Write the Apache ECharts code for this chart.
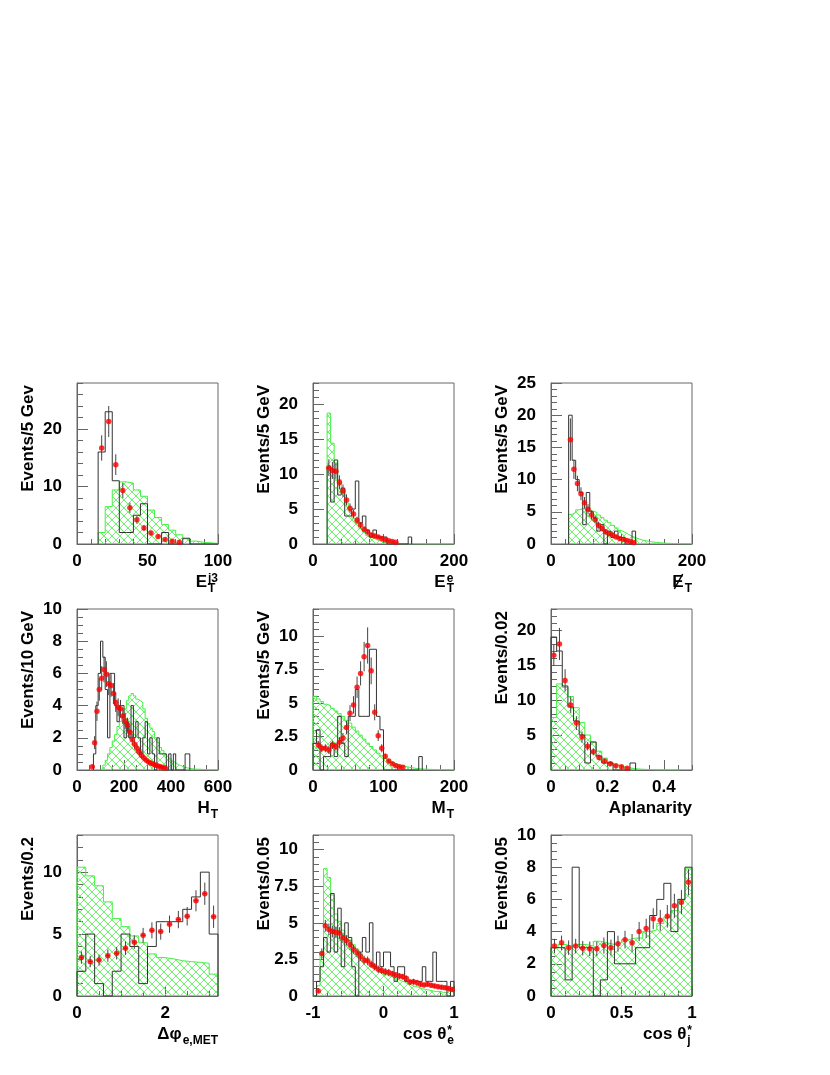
<!DOCTYPE html>
<html><head><meta charset="utf-8">
<script src="https://cdn.jsdelivr.net/npm/echarts@6/dist/echarts.min.js"></script>
<style>html,body{margin:0;padding:0;background:#fff}#c{width:830px;height:1075px}</style>
</head><body><div id="c"></div>
<script>
// ---------------- DATA ----------------
// Panel 1: E_T^j3  (bin width 5)
const ej3XTicks = [0, 50, 100];
const ej3YTicks = [0, 10, 20];
const ej3BlackStart = 15;
const ej3Black = [16, 23, 11, 2, 2, 5, 7, 0, 0, 2, 0, 0, 1, 0, 0, 0, 0];
const ej3GreenStart = 15;
const ej3Green = [2.0, 6.5, 9.4, 10.8, 10.6, 9.4, 8.3, 5.9, 4.6, 3.4, 2.4, 1.6, 0.9, 0.5, 0.3, 0.2, 0.1];
const ej3RedStart = 17.5;
const ej3Red = [16.7, 21.3, 13.8, 9.3, 6.3, 4.2, 2.8, 1.9, 1.3, 0.8, 0.5, 0.3];
const ej3Err = [2.2, 2.7, 1.8, 1.3, 0.9, 0.7, 0.5, 0.4, 0.3, 0.2, 0.2, 0.1];

// Panel 2: E_T^e (bin width 5)
const eteXTicks = [0, 100, 200];
const eteYTicks = [0, 5, 10, 15, 20];
const eteBlackStart = 20;
const eteBlack = [11, 6, 12, 7, 8, 4, 4, 5, 9, 3, 4, 2, 1, 2, 1, 1, 1, 0, 0, 0, 0, 0, 0, 1];
const eteGreenStart = 20;
const eteGreen = [18.7, 14.4, 11.6, 9.2, 7.4, 5.9, 4.7, 3.7, 2.9, 2.2, 1.7, 1.2, 0.9, 0.65, 0.45, 0.3, 0.2, 0.15, 0.1, 0.07, 0.05, 0.04, 0.03, 0.03, 0.02, 0.02, 0.02, 0.01, 0.01, 0.01, 0.01, 0.01, 0.01, 0.01, 0.01, 0.01];
const eteRedStart = 22.5;
const eteRed = [10.9, 10.5, 10.4, 8.8, 7.6, 6.3, 5.1, 4.3, 3.4, 2.7, 2.1, 1.7, 1.3, 1.15, 1.0, 0.8, 0.6, 0.45, 0.35, 0.25];
const eteErr = [1.2, 1.2, 1.1, 1.0, 0.9, 0.8, 0.7, 0.6, 0.5, 0.45, 0.4, 0.35, 0.3, 0.3, 0.25, 0.2, 0.2, 0.15, 0.15, 0.1];

// Panel 3: missing E_T (bin width 5)
const metXTicks = [0, 100, 200];
const metYTicks = [0, 5, 10, 15, 20, 25];
const metBlackStart = 25;
const metBlack = [20, 13, 10, 8, 3, 8, 5, 4, 2, 3, 0, 2, 1, 2, 1, 1, 0, 0, 2];
const metGreenStart = 25;
const metGreen = [4.6, 4.9, 5.3, 5.5, 5.4, 5.3, 5.1, 4.9, 4.5, 4.1, 3.7, 3.3, 2.9, 2.5, 2.1, 1.8, 1.5, 1.2, 1.0, 0.8, 0.6, 0.5, 0.4, 0.3, 0.25, 0.2, 0.15, 0.12, 0.1, 0.08, 0.06, 0.05, 0.04, 0.03, 0.02];
const metRedStart = 27.5;
const metRed = [16.2, 11.6, 9.4, 7.8, 6.4, 5.4, 4.5, 3.8, 2.9, 2.4, 1.9, 1.6, 1.4, 1.1, 0.85, 0.7, 0.55, 0.4, 0.25];
const metErr = [3.3, 1.5, 1.2, 1.0, 0.9, 0.8, 0.7, 0.6, 0.5, 0.45, 0.4, 0.35, 0.3, 0.3, 0.25, 0.2, 0.2, 0.15, 0.1];

// Panel 4: H_T (bin width 10)
const htXTicks = [0, 200, 400, 600];
const htYTicks = [0, 2, 4, 6, 8, 10];
const htBlackStart = 70;
const htBlack = [1, 4, 6, 8, 7, 5, 2, 6, 6, 4, 3, 4, 4, 2, 3, 2, 4, 2, 3, 2, 1, 2, 3, 1, 2, 1, 0, 2, 1, 1, 1, 0, 1, 0, 1, 0, 0, 0, 0, 1, 1];
const htGreenStart = 100;
const htGreen = [0.1, 0.3, 0.6, 1.0, 1.4, 1.8, 2.2, 2.7, 3.0, 3.4, 3.8, 4.3, 4.6, 4.75, 4.6, 4.4, 4.3, 4.2, 3.8, 3.2, 2.9, 2.6, 2.4, 2.0, 1.7, 1.4, 1.2, 1.0, 0.85, 0.7, 0.55, 0.45, 0.35, 0.28, 0.22, 0.17, 0.13, 0.1, 0.08, 0.06, 0.05, 0.05, 0.04, 0.03, 0.03, 0.02, 0.02, 0.02, 0.01, 0.01];
const htRedStart = 65;
const htRed = [0.2, 1.7, 3.65, 5.0, 5.7, 6.25, 5.95, 5.35, 5.25, 4.75, 4.2, 3.9, 3.8, 3.35, 3.05, 2.8, 2.35, 1.9, 1.6, 1.35, 1.1, 0.9, 0.75, 0.6, 0.5, 0.42, 0.35, 0.3, 0.25, 0.2, 0.15, 0.12];
const htErr = [0.1, 0.4, 0.6, 0.7, 0.75, 0.8, 0.8, 0.7, 0.7, 0.65, 0.6, 0.55, 0.55, 0.5, 0.5, 0.45, 0.4, 0.35, 0.3, 0.3, 0.25, 0.2, 0.2, 0.15, 0.15, 0.12, 0.1, 0.1, 0.08, 0.08, 0.06, 0.05];

// Panel 5: M_T (bin width 5)
const mtXTicks = [0, 100, 200];
const mtYTicks = [0, 2.5, 5, 7.5, 10];
const mtBlackStart = 0;
const mtBlack = [2, 3, 0, 1, 1, 2, 1, 4, 2, 1, 4, 4, 6, 4, 4, 4, 9, 9, 4, 3, 0, 0, 0, 0, 0, 0, 0, 0, 0, 0, 1];
const mtGreenStart = 0;
const mtGreen = [5.5, 5.3, 5.1, 4.9, 4.8, 4.6, 4.4, 4.2, 4.0, 3.7, 3.5, 3.2, 2.9, 2.6, 2.3, 2.0, 1.75, 1.5, 1.25, 1.05, 0.85, 0.7, 0.55, 0.45, 0.35, 0.28, 0.22, 0.17, 0.13, 0.1, 0.08, 0.06, 0.05, 0.04, 0.03, 0.03, 0.02, 0.02, 0.01, 0.01];
const mtRedStart = 7.5;
const mtRed = [1.87, 1.62, 1.62, 1.5, 1.87, 1.74, 2.06, 2.36, 3.16, 4.23, 4.85, 6.17, 7.2, 8.45, 9.28, 7.39, 4.3, 2.56, 1.62, 1.02, 0.67, 0.47, 0.32, 0.25, 0.2];
const mtErr = [0.3, 0.3, 0.3, 0.3, 0.3, 0.3, 0.4, 0.4, 0.5, 0.6, 0.65, 0.8, 0.9, 1.1, 1.35, 1.0, 0.6, 0.4, 0.3, 0.2, 0.15, 0.1, 0.1, 0.08, 0.06];

// Panel 6: Aplanarity (bin width 0.02)
const aplXTicks = [0, 0.2, 0.4];
const aplYTicks = [0, 5, 10, 15, 20];
const aplBlackStart = 0;
const aplBlack = [19, 17, 12, 9, 7, 5, 1, 4, 2, 1, 1, 0, 0, 0, 1];
const aplGreenStart = 0;
const aplGreen = [7.5, 12.3, 11.8, 10.5, 8.9, 6.8, 5.0, 4.0, 2.7, 1.7, 1.1, 0.7, 0.45, 0.3, 0.18, 0.12, 0.08, 0.05, 0.03, 0.02, 0.01, 0.01, 0.01];
const aplRedStart = 0.01;
const aplRed = [16.4, 18.0, 12.8, 9.3, 6.7, 4.7, 3.4, 2.6, 1.8, 1.3, 0.9, 0.6, 0.45, 0.25];
const aplErr = [1.5, 2.3, 1.6, 1.2, 1.0, 0.8, 0.6, 0.5, 0.4, 0.3, 0.25, 0.2, 0.15, 0.1];

// Panel 7: delta phi(e,MET) (bin width 0.2)
const dphiXTicks = [0, 2];
const dphiYTicks = [0, 5, 10];
const dphiBlackStart = 0;
const dphiBlack = [2, 5, 1, 0, 2, 5, 4, 1, 4, 6, 6, 6, 7, 8, 10, 5];
const dphiGreenStart = 0;
const dphiGreen = [10.4, 9.7, 8.9, 7.6, 6.25, 5.6, 4.85, 4.3, 3.4, 3.1, 2.99, 2.85, 2.77, 2.72, 2.64, 1.77];
const dphiRedStart = 0.1;
const dphiRed = [3.1, 2.77, 2.9, 3.26, 3.45, 3.86, 4.35, 4.9, 5.3, 5.2, 5.8, 6.17, 6.44, 7.69, 8.26, 6.4];
const dphiErr = [0.5, 0.45, 0.45, 0.5, 0.5, 0.55, 0.55, 0.6, 0.65, 0.65, 0.7, 0.7, 0.75, 0.85, 0.9, 0.9];

// Panel 8: cos theta_e* (bin width 0.05)
const coseXTicks = [-1, 0, 1];
const coseYTicks = [0, 2.5, 5, 7.5, 10];
const coseBlackStart = -1;
const coseBlack = [0, 1, 2, 4, 3, 7, 3, 6, 2, 5, 4, 2, 0, 3, 4, 3, 5, 2, 3, 2, 3, 3, 2, 1, 2, 2, 1, 1, 1, 1, 1, 2, 1, 1, 3, 1, 1, 1, 0, 1];
const coseGreenStart = -1;
const coseGreen = [0, 0.7, 3.0, 8.7, 8.1, 6.9, 5.6, 5.1, 4.5, 4.1, 3.8, 3.5, 3.2, 2.9, 2.6, 2.4, 2.2, 2.0, 1.8, 1.6, 1.45, 1.35, 1.25, 1.15, 1.05, 0.95, 0.85, 0.75, 0.65, 0.6, 0.5, 0.45, 0.4, 0.35, 0.3, 0.3, 0.25, 0.25, 0.35, 0.55];
const coseRedStart = -0.925;
const coseRed = [0.34, 2.9, 4.8, 4.55, 4.4, 4.35, 4.3, 3.98, 3.8, 3.5, 3.2, 2.95, 2.7, 2.45, 2.4, 2.16, 2.0, 1.82, 1.75, 1.66, 1.6, 1.52, 1.43, 1.36, 1.32, 1.2, 0.95, 0.98, 0.9, 0.8, 0.75, 0.8, 0.73, 0.68, 0.64, 0.6, 0.57, 0.52, 0.45];
const coseErr = [0.1, 0.35, 0.4, 0.4, 0.4, 0.4, 0.4, 0.35, 0.35, 0.35, 0.3, 0.3, 0.3, 0.3, 0.3, 0.25, 0.25, 0.25, 0.25, 0.25, 0.25, 0.2, 0.2, 0.2, 0.2, 0.2, 0.2, 0.2, 0.2, 0.15, 0.15, 0.15, 0.15, 0.15, 0.15, 0.15, 0.15, 0.15, 0.15];

// Panel 9: cos theta_j* (bin width 0.05)
const cosjXTicks = [0, 0.5, 1];
const cosjYTicks = [0, 2, 4, 6, 8, 10];
const cosjBlackStart = 0;
const cosjBlack = [3, 3, 1, 8, 3, 3, 0, 1, 4, 2, 2, 2, 3, 3, 5, 6, 7, 4, 6, 8];
const cosjGreenStart = 0;
const cosjGreen = [3.0, 3.2, 3.1, 3.2, 3.2, 3.1, 3.4, 3.3, 3.2, 3.3, 3.5, 3.6, 3.6, 4.0, 4.1, 4.5, 4.9, 5.3, 6.0, 7.9];
const cosjRedStart = 0.025;
const cosjRed = [3.1, 3.3, 3.0, 3.1, 2.97, 2.93, 2.93, 3.13, 3.0, 3.25, 3.5, 3.3, 4.0, 4.2, 4.8, 4.7, 4.95, 5.6, 5.83, 7.07];
const cosjErr = [0.45, 0.45, 0.45, 0.45, 0.45, 0.45, 0.45, 0.5, 0.5, 0.5, 0.55, 0.55, 0.6, 0.6, 0.65, 0.65, 0.7, 0.75, 0.75, 0.8];

// ---------------- PANELS (data refs + axis ranges) ----------------
const panels = [
  {xr:[0,100], ymax:28, bw:5, black:[ej3BlackStart,ej3Black], green:[ej3GreenStart,ej3Green], red:[ej3RedStart,ej3Red,ej3Err], hx:0,
   xt:ej3XTicks, xm:10, yt:ej3YTicks, ym:2, yTitle:'Events/5 Gev', xTitle:{main:'E', sub:'T', sup:'j3'}},
  {xr:[0,200], ymax:23, bw:5, black:[eteBlackStart,eteBlack], green:[eteGreenStart,eteGreen], red:[eteRedStart,eteRed,eteErr], hx:0,
   xt:eteXTicks, xm:20, yt:eteYTicks, ym:1, yTitle:'Events/5 GeV', xTitle:{main:'E', sub:'T', sup:'e'}},
  {xr:[0,200], ymax:25, bw:5, black:[metBlackStart,metBlack], green:[metGreenStart,metGreen], red:[metRedStart,metRed,metErr], hx:0,
   xt:metXTicks, xm:20, yt:metYTicks, ym:1, yTitle:'Events/5 GeV', xTitle:{main:'E', sub:'T', slash:true}},
  {xr:[0,600], ymax:10, bw:10, black:[htBlackStart,htBlack], green:[htGreenStart,htGreen], red:[htRedStart,htRed,htErr], hx:0,
   xt:htXTicks, xm:50, yt:htYTicks, ym:0.5, yTitle:'Events/10 GeV', xTitle:{main:'H', sub:'T'}},
  {xr:[0,200], ymax:12, bw:5, black:[mtBlackStart,mtBlack], green:[mtGreenStart,mtGreen], red:[mtRedStart,mtRed,mtErr], hx:0,
   xt:mtXTicks, xm:20, yt:mtYTicks, ym:0.5, yTitle:'Events/5 GeV', xTitle:{main:'M', sub:'T'}},
  {xr:[0,0.5], ymax:23, bw:0.02, black:[aplBlackStart,aplBlack], green:[aplGreenStart,aplGreen], red:[aplRedStart,aplRed,aplErr], hx:0,
   xt:aplXTicks, xm:0.05, yt:aplYTicks, ym:1, yTitle:'Events/0.02', xTitle:{main:'Aplanarity'}},
  {xr:[0,3.2], ymax:13, bw:0.2, black:[dphiBlackStart,dphiBlack], green:[dphiGreenStart,dphiGreen], red:[dphiRedStart,dphiRed,dphiErr], hx:0.05,
   xt:dphiXTicks, xm:0.5, yt:dphiYTicks, ym:1, yTitle:'Events/0.2', xTitle:{main:'\u0394\u03c6', sub:'e,MET'}},
  {xr:[-1,1], ymax:11, bw:0.05, black:[coseBlackStart,coseBlack], green:[coseGreenStart,coseGreen], red:[coseRedStart,coseRed,coseErr], hx:0,
   xt:coseXTicks, xm:0.2, yt:coseYTicks, ym:0.5, yTitle:'Events/0.05', xTitle:{main:'cos \u03b8', sub:'e', sup:'*'}},
  {xr:[0,1], ymax:10, bw:0.05, black:[cosjBlackStart,cosjBlack], green:[cosjGreenStart,cosjGreen], red:[cosjRedStart,cosjRed,cosjErr], hx:0,
   xt:cosjXTicks, xm:0.1, yt:cosjYTicks, ym:0.5, yTitle:'Events/0.05', xTitle:{main:'cos \u03b8', sub:'j', sup:'*'}}
];

// ---------------- LAYOUT / STYLE ----------------
const COLS = [77, 313, 551], ROWS = [383, 609, 835], PW = 141, PH = 161;
const BASE = [588, 814, 1040];
const FONT = '"Liberation Sans", Arial, Helvetica, sans-serif';
const AX = '#666', GREEN = '#44f044', HATCH = '#5cf55c', BLACK = '#333';

const hatch = document.createElement('canvas');
hatch.width = 8; hatch.height = 8;
(function(){ const g = hatch.getContext('2d'); g.strokeStyle = HATCH; g.lineWidth = 0.9;
  g.beginPath(); g.moveTo(0,0); g.lineTo(8,8); g.moveTo(0,8); g.lineTo(8,0); g.stroke(); })();

const mctx = document.createElement('canvas').getContext('2d');
function tw(t, s){ mctx.font = 'bold ' + s + 'px ' + FONT; return mctx.measureText(t).width; }

function stepData(start, bw, vals){
  const pts = [[start, 0]];
  vals.forEach((v,k)=>pts.push([+(start + k*bw).toFixed(6), v]));
  const end = +(start + vals.length*bw).toFixed(6);
  pts.push([end, vals[vals.length-1]]); pts.push([end, 0]);
  return pts;
}
function minorList(min, max, step){
  const out = []; const n = Math.round((max-min)/step);
  for (let k=0;k<=n;k++) out.push(+(min + k*step).toFixed(6));
  return out;
}

const grids = [], xAxes = [], yAxes = [], series = [], graphics = [];
const labelStyle = {fontSize:17, fontWeight:'bold', fontFamily:FONT, color:'#000'};

panels.forEach((p, i) => {
  const c = i % 3, r = Math.floor(i / 3);
  const left = COLS[c], top = ROWS[r];
  grids.push({left, top, width:PW, height:PH, show:true, borderColor:AX, borderWidth:1, backgroundColor:'#fff', containLabel:false, outerBoundsMode:'none'});
  const xMinor = minorList(p.xr[0], p.xr[1], p.xm);
  const yMinor = minorList(0, Math.floor(p.ymax/p.ym)*p.ym, p.ym);
  xAxes.push({type:'value', gridIndex:i, position:'bottom', min:p.xr[0], max:p.xr[1],
    axisLine:{show:true, onZero:false, lineStyle:{color:AX}},
    axisTick:{show:true, inside:true, length:10, customValues:p.xt, lineStyle:{color:AX}},
    axisLabel:Object.assign({show:true, margin:9, customValues:p.xt}, labelStyle),
    splitLine:{show:false}});
  xAxes.push({type:'value', gridIndex:i, position:'bottom', min:p.xr[0], max:p.xr[1],
    axisLine:{show:false, onZero:false},
    axisTick:{show:true, inside:true, length:5, customValues:xMinor, lineStyle:{color:AX}},
    axisLabel:{show:false}, splitLine:{show:false}});
  yAxes.push({type:'value', gridIndex:i, position:'left', min:0, max:p.ymax,
    axisLine:{show:true, onZero:false, lineStyle:{color:AX}},
    axisTick:{show:true, inside:true, length:11, customValues:p.yt, lineStyle:{color:AX}},
    axisLabel:Object.assign({show:true, margin:15, customValues:p.yt}, labelStyle),
    splitLine:{show:false}});
  yAxes.push({type:'value', gridIndex:i, position:'left', min:0, max:p.ymax,
    axisLine:{show:false, onZero:false},
    axisTick:{show:true, inside:true, length:6, customValues:yMinor, lineStyle:{color:AX}},
    axisLabel:{show:false}, splitLine:{show:false}});
  const xi = 2*i, yi = 2*i;
  series.push({type:'line', xAxisIndex:xi, yAxisIndex:yi, step:'end', symbol:'none', silent:true,
    data:stepData(p.green[0], p.bw, p.green[1]),
    lineStyle:{color:GREEN, width:1}, areaStyle:{color:{image:hatch, repeat:'repeat'}, opacity:1}, z:1});
  series.push({type:'line', xAxisIndex:xi, yAxisIndex:yi, step:'end', symbol:'none', silent:true,
    data:stepData(p.black[0], p.bw, p.black[1]),
    lineStyle:{color:BLACK, width:1}, z:2});
  const pts = p.red[1].map((v,k)=>[+(p.red[0] + k*p.bw).toFixed(6), v, p.red[2][k], p.hx]);
  series.push({type:'custom', xAxisIndex:xi, yAxisIndex:yi, silent:true, z:3,
    data:pts, encode:{x:0, y:1},
    renderItem:function(params, api){
      const x = api.value(0), y = api.value(1), e = api.value(2), h = api.value(3);
      const a = api.coord([x, y + e]), b = api.coord([x, Math.max(0, y - e)]);
      const ch = [{type:'line', shape:{x1:a[0], y1:a[1], x2:b[0], y2:b[1]}, style:{stroke:'#444', lineWidth:1}}];
      if (h > 0) {
        const l = api.coord([x - h, y]), rr = api.coord([x + h, y]);
        ch.push({type:'line', shape:{x1:l[0], y1:l[1], x2:rr[0], y2:rr[1]}, style:{stroke:'#444', lineWidth:1}});
      }
      return {type:'group', children:ch};
    }});
  series.push({type:'scatter', xAxisIndex:xi, yAxisIndex:yi, silent:true, z:4,
    data:pts.map(q=>[q[0], q[1]]), symbol:'circle', symbolSize:5.5,
    itemStyle:{color:'#ff0000'}});

  // y-axis title (rotated)
  graphics.push({type:'text', x:left - 49, y:top + 2, rotation:Math.PI/2,
    style:{text:p.yTitle, font:'bold 17px ' + FONT, fill:'#000', align:'right', verticalAlign:'middle', textAlign:'right', textVerticalAlign:'middle'}});
  // x-axis title with sub/superscripts
  const t = p.xTitle, B = BASE[r], right = left + PW;
  const wm = tw(t.main, 17), ws = t.sub ? tw(t.sub, 12) : 0, wp = t.sup ? tw(t.sup, 12) : 0;
  const x0 = right - (wm + Math.max(ws, wp) + (t.sub || t.sup ? 1 : 0));
  const mk = (txt, x, y, s) => ({type:'text', x, y,
    style:{text:txt, font:'bold ' + s + 'px ' + FONT, fill:'#000', align:'left', verticalAlign:'middle', textAlign:'left', textVerticalAlign:'middle'}});
  graphics.push(mk(t.main, x0, B - 5.3, 17));
  if (t.sub) graphics.push(mk(t.sub, x0 + wm + 1, B + 4 - 3.7, 12));
  if (t.sup) graphics.push(mk(t.sup, x0 + wm + 1, B - 6 - 3.7, 12));
  if (t.slash) graphics.push({type:'line', shape:{x1:x0 + 2, y1:B + 1, x2:x0 + wm - 1, y2:B - 14}, style:{stroke:'#000', lineWidth:1.5}});
});

const chart = echarts.init(document.getElementById('c'), null, {renderer:'canvas'});
chart.setOption({
  backgroundColor:'#fff', animation:false,
  grid:grids, xAxis:xAxes, yAxis:yAxes, series:series, graphic:graphics
});
</script>
</body></html>
